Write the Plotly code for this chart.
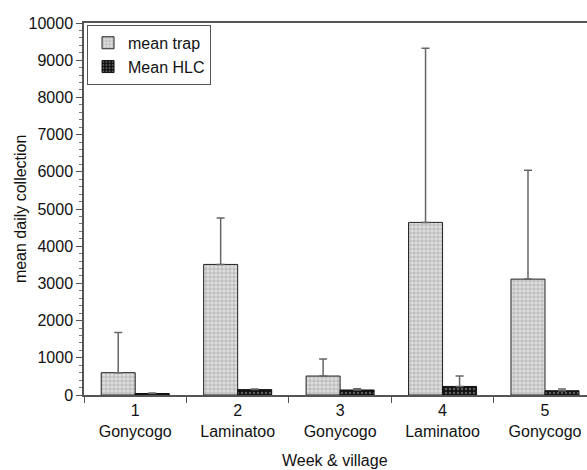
import plotly.graph_objects as go

weeks = ["1", "2", "3", "4", "5"]
villages = ["Gonycogo", "Laminatoo", "Gonycogo", "Laminatoo", "Gonycogo"]
trap_mean = [600, 3510, 510, 4640, 3115]
trap_err = [1080, 1250, 460, 4680, 2925]
hlc_mean = [40, 145, 135, 230, 115]
hlc_err = [15, 15, 30, 280, 45]
y_ticks = [0, 1000, 2000, 3000, 4000, 5000, 6000, 7000, 8000, 9000, 10000]
y_ticktext = [str(v) for v in y_ticks]

cats = [f"{w}<br>{v}" for w, v in zip(weeks, villages)]
font = "Liberation Sans, Arial, Helvetica, sans-serif"

fig = go.Figure()
fig.add_trace(go.Bar(
    x=cats, y=trap_mean, name="mean trap",
    marker=dict(color="#d8d8d8", line=dict(color="#222", width=1),
                pattern=dict(shape="+", bgcolor="#dedede", fgcolor="#555", size=4, solidity=0.25)),
    error_y=dict(type="data", array=trap_err, arrayminus=[0]*5, symmetric=False,
                 color="#666", thickness=1.5, width=4),
))
fig.add_trace(go.Bar(
    x=cats, y=hlc_mean, name="Mean HLC",
    marker=dict(color="#111", line=dict(color="#111", width=1),
                pattern=dict(shape=".", bgcolor="#111", fgcolor="#aaa", size=4, solidity=0.3)),
    error_y=dict(type="data", array=hlc_err, arrayminus=[0]*5, symmetric=False,
                 color="#666", thickness=1.5, width=4),
))

fig.update_layout(
    width=587, height=470,
    margin=dict(l=84, r=0, t=23, b=75, autoexpand=False),
    paper_bgcolor="white", plot_bgcolor="white",
    font=dict(family=font, size=16, color="#111"),
    barmode="group", bargap=0.336, bargroupgap=0,
    showlegend=True,
    legend=dict(x=0.006, y=0.995, xanchor="left", yanchor="top",
                bordercolor="#555", borderwidth=1, bgcolor="white",
                font=dict(size=16), tracegroupgap=0),
    annotations=[
        dict(text="Week & village", xref="paper", yref="paper", x=0.499, y=-0.177,
             xanchor="center", yanchor="middle", showarrow=False, font=dict(size=16)),
        dict(text="mean daily collection", xref="paper", yref="paper", x=-0.127, y=0.5,
             xanchor="center", yanchor="middle", textangle=-90, showarrow=False,
             font=dict(size=16)),
    ],
)
fig.update_xaxes(
    range=[-0.5, 4.41], showline=True, linecolor="#555", linewidth=1.5, mirror=True,
    ticks="outside", tickson="boundaries", ticklen=6, tickcolor="#555",
    showgrid=False, tickfont=dict(size=16), automargin=False,
)
fig.update_yaxes(
    range=[0, 10000], tickvals=y_ticks, ticktext=y_ticktext, showline=True,
    linecolor="#555", linewidth=1.5,
    ticks="outside", ticklen=6, tickcolor="#555", showgrid=False, zeroline=False,
    minor=dict(dtick=200, ticks="outside", ticklen=3, tickcolor="#777", showgrid=False),
    tickfont=dict(size=16), automargin=False,
)

fig.write_html(
    "out.html",
    config={"displayModeBar": False},
    post_script="document.body.style.margin='0';document.body.style.overflow='hidden';",
)
